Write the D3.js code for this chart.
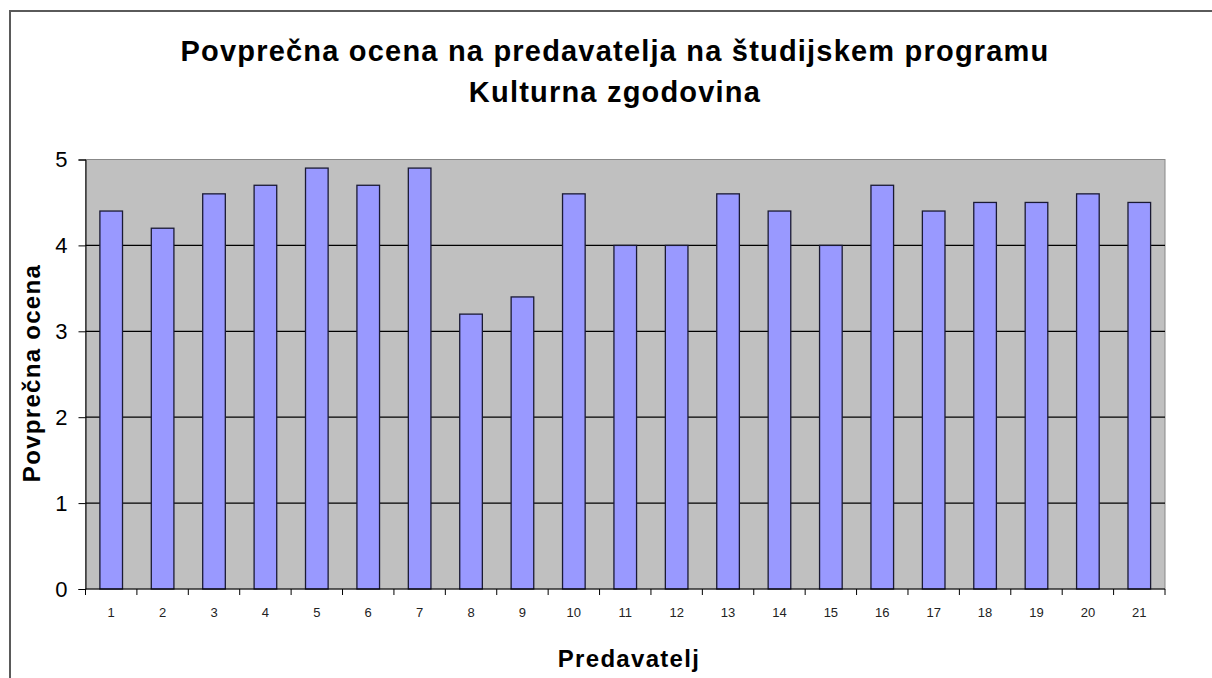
<!DOCTYPE html>
<html>
<head>
<meta charset="utf-8">
<script src="https://cdn.jsdelivr.net/npm/d3@7"></script>
<style>
  body { margin: 0; background: #fff; }
  text { font-family: "Liberation Sans", Arial, sans-serif; }
</style>
</head>
<body>
<div id="viz"></div>
<script>
// chart data
var lecturers = ["1","2","3","4","5","6","7","8","9","10","11","12","13","14","15","16","17","18","19","20","21"];
var avgScores = [4.4, 4.2, 4.6, 4.7, 4.9, 4.7, 4.9, 3.2, 3.4, 4.6, 4.0, 4.0, 4.6, 4.4, 4.0, 4.7, 4.4, 4.5, 4.5, 4.6, 4.5];
var yTicks = [0, 1, 2, 3, 4, 5];
var titleLines = ["Povprečna ocena na predavatelja na študijskem programu", "Kulturna zgodovina"];

var width = 1212, height = 678;
var margin = {top: 159.5, right: 47, bottom: 89, left: 85.5};

var svg = d3.select("#viz")
  .append("svg")
  .attr("width", width)
  .attr("height", height);

// outer chart frame (runs off the picture right and bottom)
svg.append("rect")
  .attr("x", 10)
  .attr("y", 11)
  .attr("width", width + 20)
  .attr("height", height + 20)
  .attr("fill", "#fff")
  .attr("stroke", "#5a5a5a")
  .attr("stroke-width", 2);

var x = d3.scaleBand()
  .domain(lecturers)
  .range([margin.left, width - margin.right])
  .paddingInner(0.56)
  .paddingOuter(0.28);

var y = d3.scaleLinear()
  .domain([0, 5])
  .range([height - margin.bottom, margin.top]);

// plot area
svg.append("rect")
  .attr("x", margin.left)
  .attr("y", margin.top)
  .attr("width", width - margin.right - margin.left)
  .attr("height", height - margin.bottom - margin.top)
  .attr("fill", "#c0c0c0")
  .attr("stroke", "#888")
  .attr("stroke-width", 1);

// gridlines
svg.selectAll("line.grid")
  .data(yTicks.filter(function(t) { return t > 0 && t < 5; }))
  .enter()
  .append("line")
  .attr("class", "grid")
  .attr("x1", margin.left)
  .attr("x2", width - margin.right)
  .attr("y1", function(d) { return y(d); })
  .attr("y2", function(d) { return y(d); })
  .attr("stroke", "#000")
  .attr("stroke-width", 1.2);

// bars
svg.selectAll("rect.bar")
  .data(avgScores)
  .enter()
  .append("rect")
  .attr("class", "bar")
  .attr("x", function(d, i) { return x(lecturers[i]); })
  .attr("y", function(d) { return y(d); })
  .attr("width", x.bandwidth())
  .attr("height", function(d) { return y(0) - y(d); })
  .attr("fill", "#9999ff")
  .attr("stroke", "#1a1a33")
  .attr("stroke-width", 1.3);

// y axis
var yAxis = svg.append("g")
  .attr("transform", "translate(" + margin.left + ",0)")
  .call(d3.axisLeft(y).tickValues(yTicks).tickSize(7).tickPadding(11).tickFormat(d3.format("d")));
yAxis.select(".domain").attr("stroke", "#000");
yAxis.selectAll("text")
  .attr("font-size", "22px")
  .attr("fill", "#000")
  .attr("font-family", "Liberation Sans, Arial, sans-serif");

// x axis, ticks at category boundaries
var xAxis = svg.append("g")
  .attr("transform", "translate(0," + y(0) + ")");
xAxis.append("line")
  .attr("x1", margin.left)
  .attr("x2", width - margin.right)
  .attr("stroke", "#000");
var bounds = d3.range(lecturers.length + 1).map(function(i) { return margin.left + i * (width - margin.right - margin.left) / lecturers.length; });
xAxis.selectAll("line.tick")
  .data(bounds)
  .enter()
  .append("line")
  .attr("class", "tick")
  .attr("x1", function(d) { return d; })
  .attr("x2", function(d) { return d; })
  .attr("y1", 0)
  .attr("y2", 6)
  .attr("stroke", "#000");
xAxis.selectAll("text")
  .data(lecturers)
  .enter()
  .append("text")
  .attr("x", function(d) { return x(d) + x.bandwidth() / 2; })
  .attr("y", 28)
  .attr("text-anchor", "middle")
  .attr("font-size", "13px")
  .attr("fill", "#222")
  .text(function(d) { return d; });

// title
svg.selectAll("text.title")
  .data(titleLines)
  .enter()
  .append("text")
  .attr("class", "title")
  .attr("x", 615)
  .attr("y", function(d, i) { return 61 + i * 41; })
  .attr("text-anchor", "middle")
  .attr("font-size", "29px")
  .attr("font-weight", "bold")
  .attr("letter-spacing", "1.2px")
  .text(function(d) { return d; });

// axis titles
svg.append("text")
  .attr("transform", "translate(40,373) rotate(-90)")
  .attr("text-anchor", "middle")
  .attr("font-size", "24px")
  .attr("font-weight", "bold")
  .attr("letter-spacing", "1.3px")
  .text("Povprečna ocena");

svg.append("text")
  .attr("x", 629)
  .attr("y", 667)
  .attr("text-anchor", "middle")
  .attr("font-size", "24px")
  .attr("font-weight", "bold")
  .attr("letter-spacing", "1.3px")
  .text("Predavatelj");
</script>
</body>
</html>
